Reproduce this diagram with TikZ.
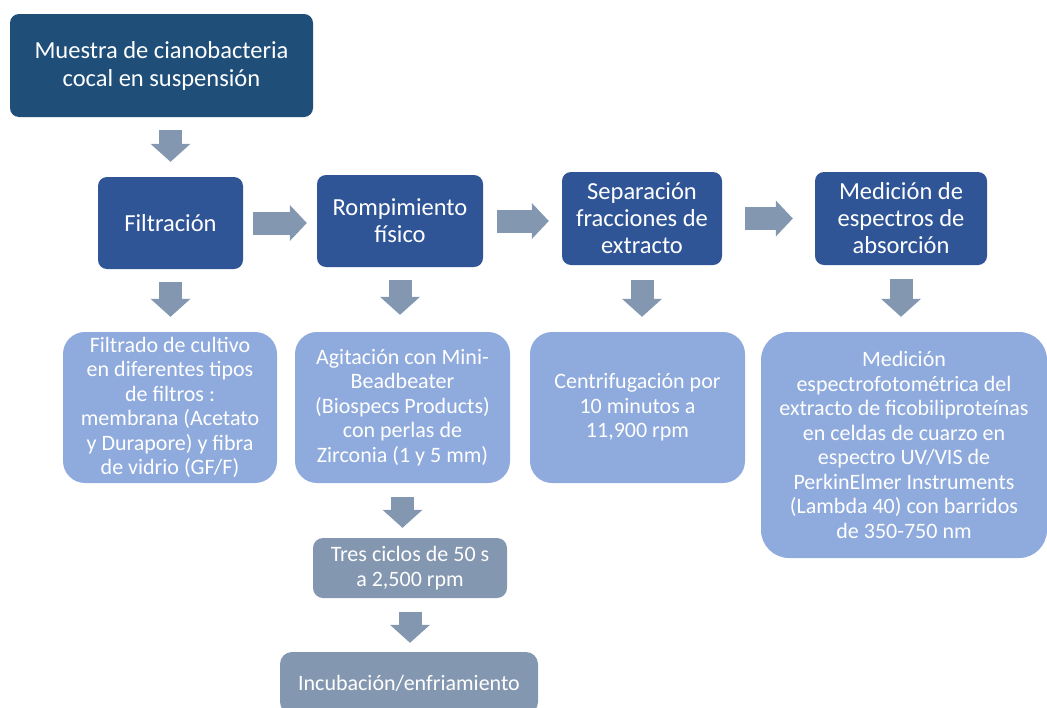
\documentclass[tikz,border=0pt]{standalone}
\usepackage{fontspec}
\setmainfont{Carlito}
\usepackage{tikz}
\usetikzlibrary{arrows.meta,positioning}
\definecolor{azulosc}{HTML}{1F4E79}
\definecolor{azulmed}{HTML}{2F5597}
\definecolor{azulcla}{HTML}{8FAADC}
\definecolor{grisazul}{HTML}{8497B0}

\begin{document}
\begin{tikzpicture}[x=1pt, y=-1pt,
		paso/.style={fill=azulmed, text=white, rounded corners=9pt, align=center, inner sep=0pt, font=\fontsize{24.5}{27}\selectfont},
		detalle/.style={fill=azulcla, text=white, rounded corners=22pt, align=center, inner sep=0pt, font=\fontsize{22}{24.5}\selectfont},
		subpaso/.style={fill=grisazul, text=white, rounded corners=10pt, align=center, inner sep=0pt, font=\fontsize{22}{24.5}\selectfont},
		flecha/.style={draw=grisazul, line width=23pt, -{Triangle[width=40pt,length=18pt,line width=0pt]}},
		flechah/.style={draw=grisazul, line width=23pt, -{Triangle[width=36pt,length=17pt,line width=0pt]}}]
				\useasboundingbox (0,0) rectangle (1047,707);

				\node[fill=azulosc, text=white, rounded corners=9pt, align=center, inner sep=0pt, font=\fontsize{24.5}{28}\selectfont,
					minimum width=303pt, minimum height=103pt] (muestra) at (161.5,65.5) {Muestra de cianobacteria\\cocal en suspensión};

				\node[paso, minimum width=145pt, minimum height=92pt] (filt) at (170.5,223) {Filtración};
				\node[paso, minimum width=166pt, minimum height=92pt] (romp) at (400,221) {Rompimiento\\físico};
				\node[paso, minimum width=160pt, minimum height=93pt] (sep) at (642,218.5) {Separación\\fracciones de\\extracto};
				\node[paso, minimum width=172pt, minimum height=93pt] (med) at (901,218.5) {Medición de\\espectros de\\absorción};

				\node[detalle, minimum width=214pt, minimum height=151pt] (filtrado) at (170,407.5)
					{Filtrado de cultivo\\en diferentes tipos\\de filtros :\\membrana (Acetato\\y Durapore) y fibra\\de vidrio (GF/F)};
				\node[detalle, minimum width=215pt, minimum height=151pt] (agit) at (402.5,407.5)
					{Agitación con Mini-\\Beadbeater\\(Biospecs Products)\\con perlas de\\Zirconia (1 y 5 mm)};
				\node[detalle, minimum width=215pt, minimum height=151pt] (centri) at (637.5,407.5)
					{Centrifugación por\\10 minutos a\\11,900 rpm};
				\node[detalle, rounded corners=28pt, minimum width=286pt, minimum height=226pt] (medesp) at (904,445)
					{Medición\\espectrofotométrica del\\extracto de ficobiliproteínas\\en celdas de cuarzo en\\espectro UV/VIS de\\PerkinElmer Instruments\\(Lambda 40) con barridos\\de 350-750 nm};

				\node[subpaso, minimum width=194pt, minimum height=60pt] (tres) at (410,568) {Tres ciclos de 50 s\\a 2,500 rpm};
				\node[subpaso, rounded corners=12pt, minimum width=258pt, minimum height=62pt] (incub) at (409,683) {Incubación/enfriamiento};

				% flechas
				\draw[flecha, shorten <=13pt, shorten >=15pt] (muestra.south -| filt.north) -- (filt.north);
				\draw[flechah, shorten <=10pt, shorten >=10pt] (filt.east) -- (filt.east -| romp.west);
				\draw[flechah, shorten <=14pt, shorten >=13pt] (romp.east) -- (romp.east -| sep.west);
				\draw[flechah, shorten <=23pt, shorten >=22pt] (sep.east) -- (sep.east -| med.west);

				\draw[flecha, shorten <=13pt, shorten >=15pt] (filt.south) -- (filt.south |- filtrado.north);
				\draw[flecha, shorten <=13pt, shorten >=17pt] (romp.south) -- (romp.south |- agit.north);
				\draw[flecha, shorten <=15pt, shorten >=15pt] (sep.south) -- (sep.south |- centri.north);
				\draw[flecha, shorten <=14pt, shorten >=15pt] (med.south) -- (med.south |- medesp.north);
				\draw[flecha, shorten <=14pt, shorten >=10pt] (agit.south) -- (agit.south |- tres.north);
				\draw[flecha, shorten <=14pt, shorten >=9pt] (tres.south) -- (tres.south |- incub.north);
			\end{tikzpicture}
\end{document}
